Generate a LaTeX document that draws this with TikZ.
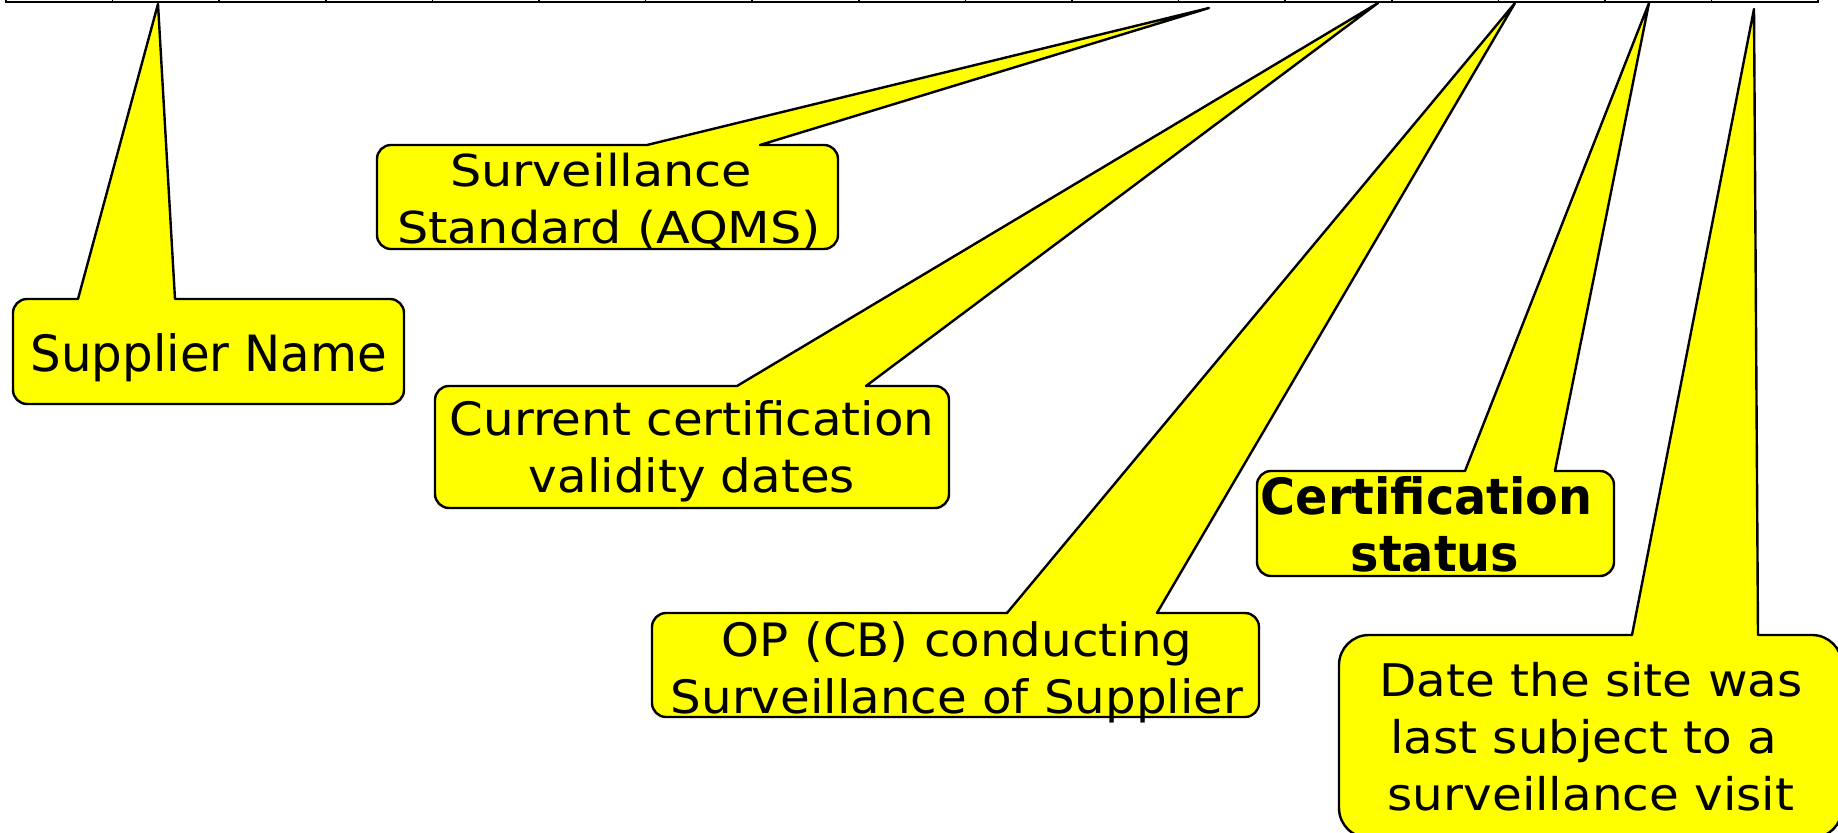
\documentclass[tikz,border=0pt]{standalone}
\usepackage{fontspec}
\setmainfont{DejaVu Sans}
\usepackage{graphicx}
\definecolor{calloutyellow}{RGB}{255,255,0}
\newcommand\cotext[3]{\fontsize{#1}{28.5}\selectfont\scalebox{#2}[1]{\begin{tabular}[t]{@{}c@{}}#3\end{tabular}}}
% #1,#2 top-left; #3,#4 bottom-right; #5,#6 pointer base x (left,right); #7,#8 tip; #9 radius
\newcommand\callout[9]{%
  \filldraw[co, rounded corners=#9] (#6,#2) -- (#3,#2) -- (#3,#4) -- (#1,#4) -- (#1,#2)
    [sharp corners] -- (#5,#2) -- (#7,#8) -- cycle;}
\begin{document}
\begin{tikzpicture}[x=0.5pt,y=-0.5pt,
  co/.style={fill=calloutyellow, draw=black, line width=1.2pt, line join=round},
  lbl/.style={inner sep=0pt, anchor=base},
  rowline/.style={draw=black, line width=1pt},
  tick/.style={draw=black, line width=0.8pt}]
\useasboundingbox (0,0) rectangle (1838,833);
% table row edge at the top
\draw[rowline] (6,2.5) -- (1818,2.5);
\foreach \i in {0,...,17} \draw[tick] ({6+106.6*\i},0) -- ({6+106.6*\i},3);
% callouts
\callout{13}{299}{404}{404}{78}{175}{158}{4}{7pt}
\callout{377}{145}{838}{249}{647}{760}{1209}{8}{7pt}
\callout{435}{386}{949}{508}{737}{866}{1378}{3}{7pt}
\callout{652}{613}{1259}{717}{1007}{1157}{1515}{3}{7pt}
\callout{1257}{471}{1614}{576}{1465}{1555}{1649}{3}{7pt}
\callout{1339}{635}{1842}{838}{1632}{1758}{1754}{9}{15pt}
% texts
\node[lbl] (supplier) at (209,372) {\cotext{25}{0.965}{Supplier Name}};
\node[lbl] (standard) at (609,187) {\cotext{22}{1.12}{Surveillance\kern0.32em\\Standard (AQMS)}};
\node[lbl] (validity) at (692,436) {\cotext{23}{1.05}{Current certification\\validity dates}};
\node[lbl] (op) at (957,657) {\cotext{23}{1.05}{OP (CB) conducting\\Surveillance of Supplier}};
\node[lbl] (status) at (1435,515) {\bfseries\cotext{25}{0.955}{Certification\kern0.35em\\status}};
\node[lbl] (lastvisit) at (1591,697) {\cotext{22.5}{1.076}{Date the site was\\last subject to a\kern0.3em\\surveillance visit}};
\end{tikzpicture}
\end{document}
